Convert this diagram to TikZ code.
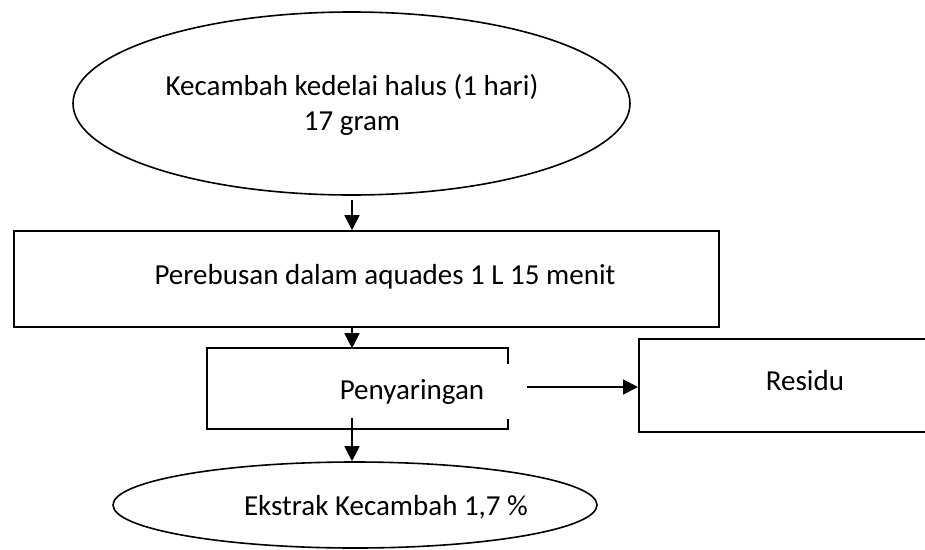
\documentclass[tikz,border=0pt]{standalone}
\usepackage{fontspec}
\setmainfont{Carlito}
\usetikzlibrary{shapes.geometric,arrows.meta}
\begin{document}
\begin{tikzpicture}[x=1pt,y=-1pt,
  line width=1.6pt,
  every node/.style={font=\fontsize{29}{35}\selectfont},
  flow/.style={-{Triangle[length=15pt,width=15pt]}},
  ell/.style={draw,ellipse,inner sep=0pt},
  lbl/.style={inner sep=0pt,align=center},
  hid/.style={rectangle,inner sep=0pt}]
\useasboundingbox (0,0) rectangle (925,549);
\clip (0,0) rectangle (925,549);
% top ellipse
\node[ell,minimum width=557pt,minimum height=183pt] (start) at (351.5,103.5) {};
\node[lbl] (startT) at (352,104.5) {Kecambah kedelai halus (1 hari)\\17 gram};
% boiling box
\node[draw,hid,minimum width=705pt,minimum height=96pt] (boil) at (366.5,279) {};
\node[lbl] (boilT) at (385,277) {Perebusan dalam aquades 1 L 15 menit};
% filtering box (right side only partly drawn)
\node[hid,minimum width=299pt,minimum height=79pt] (filt) at (357.5,388.5) {};
\draw (filt.north east) ++(0,16) -- (filt.north east) -- (filt.north west) -- (filt.south west) -- (filt.south east) -- ++(0,-10);
\node[lbl] (filtT) at (412,392) {Penyaringan};
% residue box (cut by the right edge)
\node[draw,hid,minimum width=320pt,minimum height=93pt,anchor=west] (res) at (638,385.5) {};
\node[lbl] (resT) at (805,381) {Residu};
% bottom ellipse
\node[ell,minimum width=484pt,minimum height=86pt] (ext) at (355,505) {};
\node[lbl] (extT) at (386,507) {Ekstrak Kecambah 1,7 \%};
% connectors
\coordinate (a1) at (352,200);
\coordinate (a3) at (352,418);
\coordinate (a4) at (527,387);
\draw[flow] (a1) -- (a1 |- boil.north);
\draw[flow] (a1 |- boil.south) -- (a1 |- filt.north);
\draw[flow] (a3) -- (a3 |- ext.north);
\draw[flow] (a4) -- (a4 -| res.west);
\end{tikzpicture}
\end{document}
